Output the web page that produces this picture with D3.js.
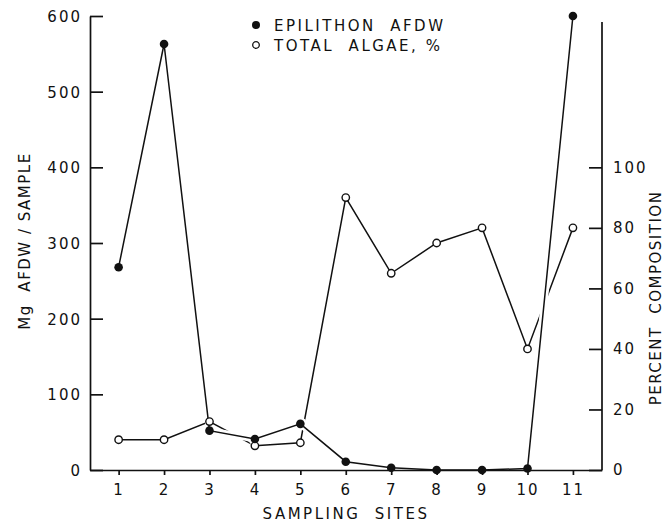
<!DOCTYPE html>
<html>
<head>
<meta charset="utf-8">
<script src="https://cdn.jsdelivr.net/npm/d3@7"></script>
<style>
  html, body { margin: 0; padding: 0; background: #fff; }
  svg { display: block; }
  text { font-family: "DejaVu Sans", sans-serif; fill: #111; white-space: pre; }
</style>
</head>
<body>
<svg id="chart" width="666" height="522"></svg>
<script>
// Sampling sites along the stream
const sites = [1, 2, 3, 4, 5, 6, 7, 8, 9, 10, 11];
// Epilithon ash-free dry weight, mg per sample (left axis)
const afdw = [268, 563, 52, 41, 61, 11, 3, 0, 0, 2, 600];
// Total algae, percent composition (right axis)
const algaePct = [10, 10, 16, 8, 9, 90, 65, 75, 80, 40, 80];

const leftTicks = [0, 100, 200, 300, 400, 500, 600];
const rightTicks = [0, 20, 40, 60, 80, 100];

const legendItems = [
  { label: "EPILITHON  AFDW", filled: true },
  { label: "TOTAL  ALGAE, %", filled: false }
];

const svg = d3.select("#chart");
const ink = "#111";

const x = d3.scaleLinear().domain([0.37, 11.64]).range([90, 602]);
const yL = d3.scaleLinear().domain([0, 600]).range([470, 16]);
const yR = d3.scaleLinear().domain([0, 150]).range([470, 16]);

const pts = sites.map((s, i) => ({ s, w: afdw[i], p: algaePct[i] }));

const lineW = d3.line().x(d => x(d.s)).y(d => yL(d.w));
const lineP = d3.line().x(d => x(d.s)).y(d => yR(d.p));

const plot = svg.append("g");

// algae line underneath
plot.append("path").datum(pts)
  .attr("d", lineP).attr("fill", "none")
  .attr("stroke", ink).attr("stroke-width", 1.5);

// white halo so the AFDW line breaks the algae line where they cross
plot.append("path").datum(pts)
  .attr("d", lineW).attr("fill", "none")
  .attr("stroke", "#fff").attr("stroke-width", 7);
plot.selectAll("circle.halo").data(pts).join("circle")
  .attr("class", "halo")
  .attr("cx", d => x(d.s)).attr("cy", d => yL(d.w))
  .attr("r", 6.5).attr("fill", "#fff");

plot.append("path").datum(pts)
  .attr("d", lineW).attr("fill", "none")
  .attr("stroke", ink).attr("stroke-width", 1.5);

plot.selectAll("circle.open").data(pts).join("circle")
  .attr("class", "open")
  .attr("cx", d => x(d.s)).attr("cy", d => yR(d.p))
  .attr("r", 3.7).attr("fill", "#fff")
  .attr("stroke", ink).attr("stroke-width", 1.4);

plot.selectAll("circle.filled").data(pts).join("circle")
  .attr("class", "filled")
  .attr("cx", d => x(d.s)).attr("cy", d => yL(d.w))
  .attr("r", 4.3).attr("fill", ink);

// Axes
function styleAxis(g) {
  g.selectAll("path.domain").attr("stroke", ink).attr("stroke-width", 1.7);
  g.selectAll(".tick line").attr("stroke", ink).attr("stroke-width", 1.7);
  g.selectAll(".tick text")
    .attr("fill", ink)
    .style("font-family", '"DejaVu Sans", sans-serif')
    .style("font-size", "15px")
    .style("letter-spacing", "2px");
}

const axL = svg.append("g").attr("transform", `translate(${x.range()[0]},0)`)
  .call(d3.axisLeft(yL).tickValues(leftTicks).tickSizeInner(-13).tickSizeOuter(0).tickPadding(8));
styleAxis(axL);
axL.selectAll(".tick text").attr("dy", "0.36em");

const axR = svg.append("g").attr("transform", `translate(${x.range()[1]},0)`)
  .call(d3.axisRight(yR).tickValues(rightTicks).tickSizeInner(-13).tickSizeOuter(0).tickPadding(11));
styleAxis(axR);
axR.select("path.domain").attr("d", `M0,${yR(0)}V${yR(148)}`);

const axB = svg.append("g").attr("transform", `translate(0,${yL(0)})`)
  .call(d3.axisBottom(x).tickValues(sites).tickFormat(d3.format("d"))
    .tickSizeInner(5).tickSizeOuter(0).tickPadding(9));
styleAxis(axB);

// Axis titles
svg.append("text")
  .attr("transform", `translate(${(x.range()[0] + x.range()[1]) / 2},519)`)
  .attr("text-anchor", "middle")
  .style("font-size", "15px").style("letter-spacing", "2.5px")
  .text("SAMPLING  SITES");

svg.append("text")
  .attr("transform", "translate(30,241) rotate(-90)")
  .attr("text-anchor", "middle")
  .style("font-size", "15px").style("letter-spacing", "1.5px")
  .text("Mg  AFDW / SAMPLE");

svg.append("text")
  .attr("transform", "translate(661,298) rotate(-90)")
  .attr("text-anchor", "middle")
  .style("font-size", "15px").style("letter-spacing", "1.5px")
  .text("PERCENT  COMPOSITION");

// Legend
const leg = svg.append("g").attr("transform", "translate(256,25)");
const legRow = leg.selectAll("g").data(legendItems).join("g")
  .attr("transform", (d, i) => `translate(0,${i * 20})`);
legRow.append("circle")
  .attr("r", d => d.filled ? 4 : 3.3)
  .attr("fill", d => d.filled ? ink : "#fff")
  .attr("stroke", ink).attr("stroke-width", d => d.filled ? 0 : 1.3);
legRow.append("text")
  .attr("x", 18).attr("y", 6)
  .style("font-size", "15px").style("letter-spacing", "2.5px")
  .text(d => d.label);
</script>
</body>
</html>
